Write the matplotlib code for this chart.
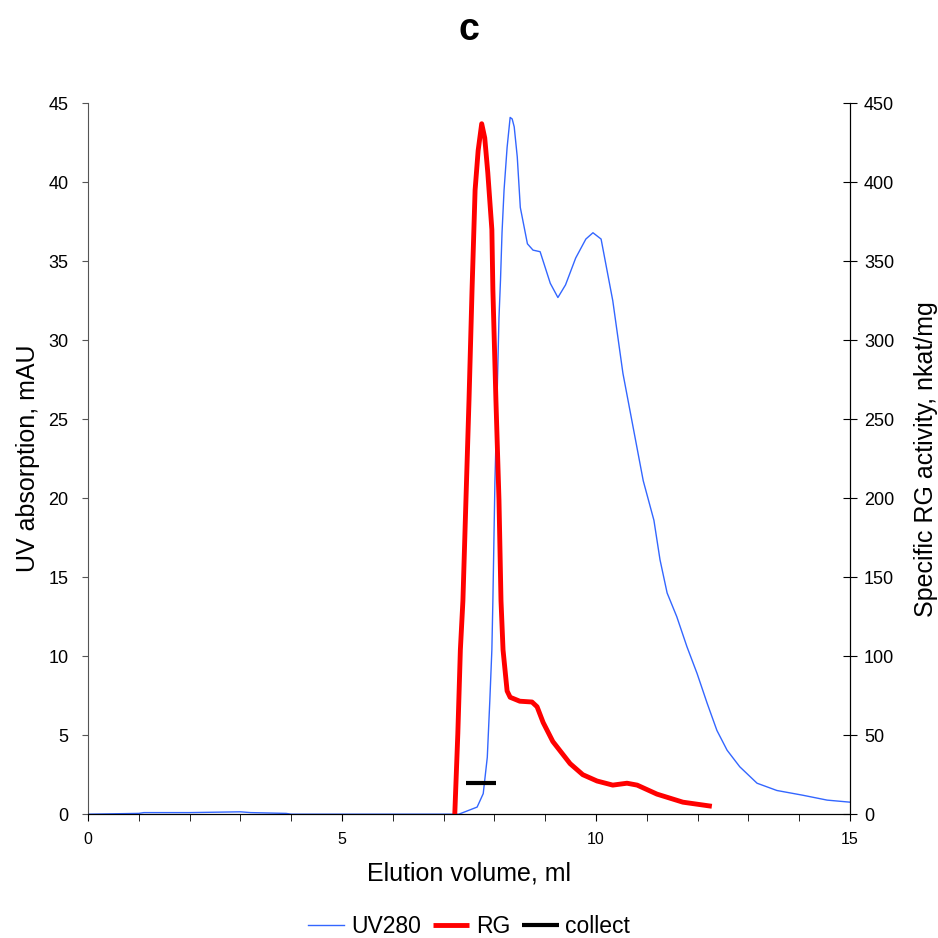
import matplotlib.pyplot as plt
from matplotlib.ticker import MultipleLocator

plt.rcParams['font.family'] = ['Liberation Sans', 'DejaVu Sans']

# UV280 trace (mAU) vs elution volume (ml)
uv_ml = [0.0, 1.0, 1.1, 2.0, 3.0, 3.2, 3.9, 4.0, 7.3, 7.38, 7.66, 7.78, 7.86, 7.91,
         7.95, 7.97, 8.01, 8.05, 8.09, 8.12, 8.15, 8.19, 8.25, 8.31, 8.35, 8.39,
         8.45, 8.51, 8.65, 8.76, 8.9, 9.0, 9.1, 9.25, 9.4, 9.6, 9.8, 9.94, 10.1,
         10.33, 10.53, 10.73, 10.93, 11.14, 11.26, 11.4, 11.59, 11.79, 11.99,
         12.19, 12.38, 12.58, 12.83, 13.17, 13.56, 14.07, 14.55, 15.0]
uv_mau = [0.0, 0.05, 0.1, 0.1, 0.15, 0.1, 0.05, 0.0, 0.0, 0.1, 0.45, 1.3, 3.6, 7.2,
          10.4, 13.5, 21.0, 26.0, 31.4, 33.8, 36.8, 39.5, 42.2, 44.1, 44.0, 43.5,
          41.6, 38.4, 36.1, 35.7, 35.6, 34.6, 33.6, 32.7, 33.5, 35.2, 36.4, 36.8,
          36.4, 32.5, 27.9, 24.5, 21.1, 18.6, 16.1, 14.0, 12.5, 10.6, 8.9,
          7.0, 5.3, 4.05, 3.0, 1.96, 1.5, 1.2, 0.89, 0.76]

# specific RG activity (nkat/mg)
rg_ml = [7.22, 7.28, 7.33, 7.38, 7.44, 7.5, 7.56, 7.62, 7.68, 7.75, 7.81, 7.87,
         7.95, 7.97, 8.03, 8.09, 8.13, 8.17, 8.25, 8.31, 8.5, 8.74, 8.84, 8.96,
         9.15, 9.49, 9.74, 10.02, 10.33, 10.61, 10.81, 11.2, 11.71, 12.28]
rg_act = [0, 51, 104, 135, 199, 262, 332, 395, 420, 437, 428, 406,
          370, 332, 262, 199, 135, 104, 78, 74, 71.5, 71, 68, 58,
          46, 32, 25, 21, 18.4, 19.6, 18.4, 12.7, 7.6, 5.0]

# collected fraction
collect_ml = [7.44, 8.03]
collect_mau = [2.0, 2.0]

fig = plt.figure(figsize=(9.38, 9.38), dpi=100)
ax = fig.add_axes([0.0938, 0.132, 0.8124, 0.758])
ax2 = ax.twinx()

ax.plot(uv_ml, uv_mau, color='#3366ff', lw=1.0, label='UV280')
ax2.plot(rg_ml, rg_act, color='#ff0000', lw=3.5, label='RG', solid_capstyle='butt')
ax.plot(collect_ml, collect_mau, color='black', lw=3, label='collect', solid_capstyle='butt')

ax.set_xlim(0, 15)
ax.set_ylim(0, 45)
ax2.set_ylim(0, 450)
ax.xaxis.set_major_locator(MultipleLocator(5))
ax.xaxis.set_minor_locator(MultipleLocator(1))
ax.yaxis.set_major_locator(MultipleLocator(5))
ax2.yaxis.set_major_locator(MultipleLocator(50))

ax.spines['top'].set_visible(False)
ax2.spines['top'].set_visible(False)
ax.spines['left'].set_color('#555555')
ax2.spines['left'].set_visible(False)

ax.tick_params(axis='x', which='both', direction='out', length=5, labelsize=11.5, pad=8)
ax.tick_params(axis='y', direction='out', length=4, labelsize=13, color='#555555', pad=10)
ax2.tick_params(axis='y', direction='inout', length=10, labelsize=13, pad=5)

ax.set_xlabel('Elution volume, ml', fontsize=18, labelpad=10)
ax.set_ylabel('UV absorption, mAU', fontsize=18, labelpad=6)
ax2.set_ylabel('Specific RG activity, nkat/mg', fontsize=18, labelpad=14)

fig.text(0.5, 0.968, 'c', ha='center', va='center', fontsize=27, fontweight='bold')

h1, l1 = ax.get_legend_handles_labels()
h2, l2 = ax2.get_legend_handles_labels()
handles = [h1[0], h2[0], h1[1]]
labels = [l1[0], l2[0], l1[1]]
fig.legend(handles, labels, loc='center', bbox_to_anchor=(0.5, 0.012), ncol=3,
           frameon=False, fontsize=16.5, handlelength=1.6, handletextpad=0.3,
           columnspacing=0.5)

fig.savefig('out.png', dpi=100)
